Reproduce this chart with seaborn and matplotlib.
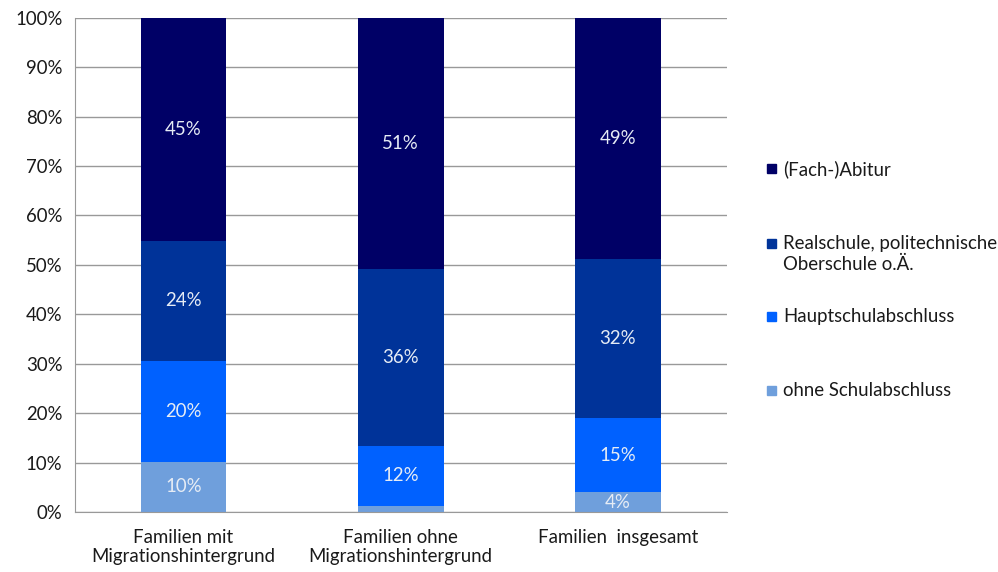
import matplotlib
matplotlib.use("Agg")
import matplotlib.pyplot as plt
from matplotlib.patches import Rectangle
import numpy as np
import pandas as pd
import seaborn as sns

categories = ["Familien mit\nMigrationshintergrund", "Familien ohne\nMigrationshintergrund", "Familien  insgesamt"]
series = ["ohne Schulabschluss", "Hauptschulabschluss", "Realschule, politechnische\nOberschule o.Ä.", "(Fach-)Abitur"]
ohne = [10.1, 1.2, 4.0]
haupt = [20.4, 12.2, 15.0]
real = [24.4, 35.8, 32.2]
abitur = [45.1, 50.8, 48.8]
labels = [["10%", "", "4%"], ["20%", "12%", "15%"], ["24%", "36%", "32%"], ["45%", "51%", "49%"]]
colors = ["#6f9fdc", "#0061ff", "#003399", "#000066"]

values = np.array([ohne, haupt, real, abitur])
cum = values.cumsum(axis=0)

sns.set_style("white")
plt.rcParams["font.family"] = ["Lato", "DejaVu Sans"]
FS = 13.4

fig = plt.figure(figsize=(9.98, 5.72), dpi=100)
ax = fig.add_axes([0.075, 0.105, 0.653, 0.864])

# stacked bars: draw cumulative totals from the top layer down
for i in range(len(series) - 1, -1, -1):
    df = pd.DataFrame({"cat": categories, "val": cum[i]})
    sns.barplot(data=df, x="cat", y="val", color=colors[i], width=0.395,
                saturation=1, linewidth=0, ax=ax, zorder=2)

for i in range(len(series)):
    for j in range(len(categories)):
        if labels[i][j]:
            yc = cum[i][j] - values[i][j] / 2
            ax.text(j, yc, labels[i][j], ha="center", va="center",
                    color="#e6ecf5", fontsize=FS, zorder=5)

ax.set_ylim(0, 100)
ax.set_xlim(-0.5, 2.5)
ax.set_yticks(np.arange(0, 101, 10))
ax.set_yticklabels([f"{v}%" for v in range(0, 101, 10)], fontsize=FS, color="#1a1a1a")
ax.set_xticks(range(3))
ax.set_xticklabels(categories, fontsize=FS, color="#1a1a1a", linespacing=1.2)
ax.set_xticks([-0.5, 0.5, 1.5, 2.5], minor=True)
ax.tick_params(axis="x", which="major", length=0, pad=12)
ax.tick_params(axis="x", which="minor", length=5, color="#999999", width=1)
ax.tick_params(axis="y", length=5, color="#999999", pad=4)
ax.set_xlabel("")
ax.set_ylabel("")
ax.yaxis.grid(True, color="#999999", linewidth=1, zorder=0)
ax.set_axisbelow(True)
for s in ["top", "right"]:
    ax.spines[s].set_visible(False)
ax.spines["left"].set_color("#999999")
ax.spines["bottom"].set_color("#999999")

# legend drawn by hand to match the spacing
leg_y = [168, 243, 316, 390]
for k, idx in enumerate([3, 2, 1, 0]):
    y = 1 - leg_y[k] / 572
    fig.patches.append(Rectangle((767 / 998, y - 4.5 / 572), 9 / 998, 9 / 572,
                                 transform=fig.transFigure, color=colors[idx]))
    fig.text(783 / 998, y + 8 / 572, series[idx], ha="left", va="top",
             fontsize=FS, color="#1a1a1a", linespacing=1.3)

fig.savefig("out.png", dpi=100)
